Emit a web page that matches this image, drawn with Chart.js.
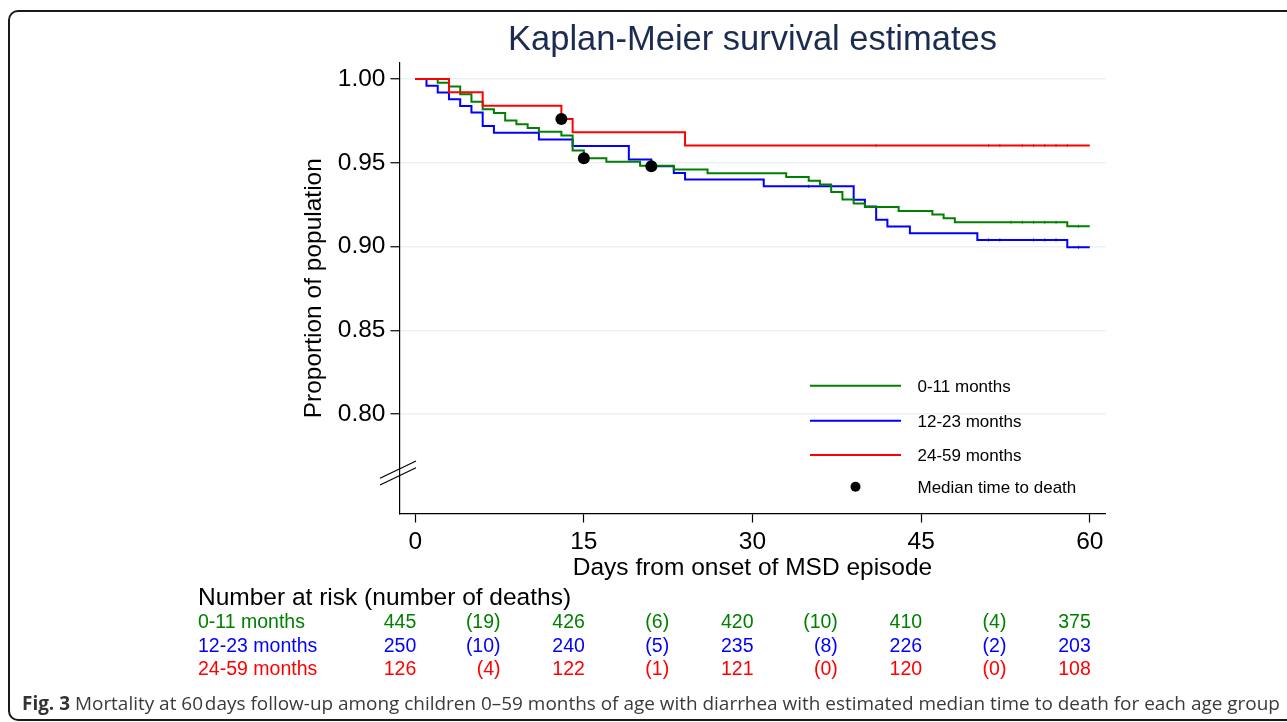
<!DOCTYPE html>
<html>
<head>
<meta charset="utf-8">
<script src="https://cdn.jsdelivr.net/npm/chart.js@4/dist/chart.umd.min.js"></script>
<style>
html,body{margin:0;padding:0;background:#fff;width:1287px;height:722px;overflow:hidden;}
#frame{position:absolute;left:8px;top:10px;width:1330px;height:711px;border:2px solid #1a1a1a;border-radius:10px;box-sizing:border-box;}
#wrap{position:absolute;left:0;top:0;width:1287px;height:722px;}
#caption{position:absolute;left:22px;top:690px;font-family:"Open Sans";font-size:18px;color:#3a3a3a;white-space:nowrap;line-height:26px;}
#caption b{font-weight:700;color:#333;}
</style>
</head>
<body>
<div id="frame"></div>
<div id="wrap"><canvas id="c" width="1287" height="722"></canvas></div>
<div id="caption"><b>Fig. 3</b> Mortality at 60&#8202;days follow-up among children 0–59 months of age with diarrhea with estimated median time to death for each age group</div>
<script>
// ---------------- data ----------------
const chartTitle = 'Kaplan-Meier survival estimates';
const xTitle = 'Days from onset of MSD episode';
const yTitle = 'Proportion of population';
const groupLabels = ['0-11 months', '12-23 months', '24-59 months'];
const medianLabel = 'Median time to death';

// Kaplan-Meier step curves (day of event, survival after event)
const daysG = [0, 2, 3, 4, 5, 6, 7, 8, 9, 10, 11, 13, 14, 15, 17, 20, 23, 26, 33, 35, 36, 37, 38, 39, 40, 43, 46, 47, 48, 58, 60];
const survG = [1.0, 0.9978, 0.9955, 0.9910, 0.9865, 0.9820, 0.9798, 0.9753, 0.9730, 0.9708, 0.9685, 0.9663, 0.9573, 0.9528, 0.9506, 0.9483, 0.9461, 0.9438, 0.9416, 0.9393, 0.9371, 0.9326, 0.9281, 0.9258, 0.9236, 0.9213, 0.9191, 0.9169, 0.9146, 0.9122, 0.9122];

const daysB = [0, 1, 2, 3, 4, 5, 6, 7, 11, 14, 19, 21, 23, 24, 31, 39, 40, 41, 42, 44, 50, 58, 60];
const survB = [1.0, 0.996, 0.992, 0.988, 0.984, 0.980, 0.972, 0.968, 0.964, 0.960, 0.952, 0.948, 0.944, 0.940, 0.936, 0.928, 0.924, 0.916, 0.912, 0.908, 0.904, 0.8996, 0.8996];

const daysR = [0, 3, 6, 13, 14, 24, 60];
const survR = [1.0, 0.9921, 0.9841, 0.9762, 0.9683, 0.9603, 0.9603];

// censoring marks (days)
const censorG = [53, 54, 55, 56, 57, 59];
const censorB = [35, 51, 52, 55, 56, 57, 59];
const censorR = [41, 51, 52, 54, 55, 56, 57, 58];

// median time to death
const medianDays = [13, 15, 21];
const medianSurv = [0.9762, 0.9528, 0.9480];

// axes
const xTicks = [0, 15, 30, 45, 60];
const yTicks = [0.80, 0.85, 0.90, 0.95, 1.00];

// number at risk table
const riskHeader = 'Number at risk (number of deaths)';
const riskTimes = [0, 15, 30, 45, 60];
const riskG = [445, 426, 420, 410, 375];
const riskB = [250, 240, 235, 226, 203];
const riskR = [126, 122, 121, 120, 108];
const deathsG = [19, 6, 10, 4];
const deathsB = [10, 5, 8, 2];
const deathsR = [4, 1, 0, 0];

// ---------------- styles ----------------
const COL = { g: '#008000', b: '#0000ff', r: '#ff0000', k: '#000000' };
const FONT = 'Liberation Sans, Arial, Helvetica, sans-serif';
Chart.defaults.font.family = FONT;
Chart.defaults.color = '#000';

function pts(xs, ys) { return xs.map((x, i) => ({ x: x, y: ys[i] })); }
function stepAt(xs, ys, t) { let v = ys[0]; for (let i = 0; i < xs.length; i++) { if (xs[i] <= t) v = ys[i]; } return v; }
function censorPts(cs, xs, ys) { return cs.map(t => ({ x: t, y: stepAt(xs, ys, t) })); }

const curve = (label, data, color, order) => ({
  label, data, borderColor: color, backgroundColor: color, borderWidth: 2,
  showLine: true, stepped: true, pointRadius: 0, fill: false, order
});
const censor = (data, color, order) => ({
  label: 'censor', data, borderColor: color, backgroundColor: color, showLine: false,
  pointStyle: 'line', rotation: 90, pointRadius: 1.6, borderWidth: 0.8, order
});

const overlay = {
  id: 'overlay',
  afterDraw(chart) {
    const ctx = chart.ctx, ca = chart.chartArea, xs = chart.scales.x;
    ctx.save();
    // title
    ctx.fillStyle = '#1c2c50';
    ctx.font = '34.5px ' + FONT;
    ctx.textAlign = 'center'; ctx.textBaseline = 'middle';
    ctx.fillText(chartTitle, (ca.left + ca.right) / 2, 40);

    // axis break marks
    ctx.strokeStyle = '#000'; ctx.lineWidth = 1.2;
    const L = ca.left;
    [[478.3, 461], [485, 467.7]].forEach(([y1, y2]) => {
      ctx.beginPath(); ctx.moveTo(L - 19.5, y1); ctx.lineTo(L + 16.5, y2); ctx.stroke();
    });

    // legend
    const lx0 = ca.right - 295.5, lx1 = ca.right - 204.5, tx = ca.right - 188;
    const ly = [385.7, 420.7, 455];
    const lc = [COL.g, COL.b, COL.r];
    ctx.font = '17px ' + FONT; ctx.textAlign = 'left'; ctx.textBaseline = 'middle';
    for (let i = 0; i < 3; i++) {
      ctx.strokeStyle = lc[i]; ctx.lineWidth = 2;
      ctx.beginPath(); ctx.moveTo(lx0, ly[i]); ctx.lineTo(lx1, ly[i]); ctx.stroke();
      ctx.fillStyle = '#000'; ctx.fillText(groupLabels[i], tx, ly[i] + 1.5);
    }
    ctx.fillStyle = '#000';
    ctx.beginPath(); ctx.arc((lx0 + lx1) / 2, 486.7, 5, 0, Math.PI * 2); ctx.fill();
    ctx.fillText(medianLabel, tx, 488);

    // number at risk table
    ctx.fillStyle = '#000'; ctx.textAlign = 'left';
    ctx.font = '24.5px ' + FONT;
    ctx.fillText(riskHeader, 198, 598.5);
    const rows = [[riskG, deathsG, COL.g, 622.5], [riskB, deathsB, COL.b, 646.5], [riskR, deathsR, COL.r, 670]];
    ctx.font = '19.5px ' + FONT;
    rows.forEach(([risk, deaths, color, y], r) => {
      ctx.fillStyle = color;
      ctx.textAlign = 'left';
      ctx.fillText(groupLabels[r], 198, y);
      ctx.textAlign = 'right';
      risk.forEach((n, i) => ctx.fillText(String(n), xs.getPixelForValue(riskTimes[i]) + 1, y));
      deaths.forEach((d, i) => ctx.fillText('(' + d + ')', xs.getPixelForValue((riskTimes[i] + riskTimes[i + 1]) / 2) + 1, y));
    });
    ctx.restore();
  }
};

new Chart(document.getElementById('c'), {
  type: 'scatter',
  data: {
    datasets: [
      { label: medianLabel, data: pts(medianDays, medianSurv), backgroundColor: '#000', borderColor: '#000', pointRadius: 6, borderWidth: 0, showLine: false, order: 0 },
      curve(groupLabels[2], pts(daysR, survR), COL.r, 1),
      censor(censorPts(censorR, daysR, survR), COL.r, 1),
      curve(groupLabels[0], pts(daysG, survG), COL.g, 2),
      censor(censorPts(censorG, daysG, survG), COL.g, 2),
      curve(groupLabels[1], pts(daysB, survB), COL.b, 3),
      censor(censorPts(censorB, daysB, survB), COL.b, 3)
    ]
  },
  options: {
    responsive: false, animation: false, devicePixelRatio: 1,
    layout: { padding: { left: 290, right: 181.5, top: 63, bottom: 137 } },
    plugins: { legend: { display: false }, tooltip: { enabled: false }, title: { display: false } },
    scales: {
      x: {
        type: 'linear', min: -1.4, max: 61.4,
        afterBuildTicks: s => { s.ticks = xTicks.map(v => ({ value: v })); },
        afterFit: s => { s.height = 71.5; },
        ticks: { font: { size: 24.5 }, color: '#000', padding: 5, maxRotation: 0, autoSkip: false },
        grid: { drawOnChartArea: false, drawTicks: true, tickLength: 9, tickColor: '#000', tickWidth: 1.2 },
        border: { display: true, color: '#000', width: 1.2 },
        title: { display: true, text: xTitle, font: { size: 24.5 }, color: '#000', padding: { top: 0, bottom: 2 } }
      },
      y: {
        type: 'linear', min: 0.7407, max: 1.0096,
        afterBuildTicks: s => { s.ticks = yTicks.map(v => ({ value: v })); },
        afterFit: s => { s.width = 109.5; },
        ticks: { font: { size: 24.5 }, color: '#000', padding: 5, callback: v => Number(v).toFixed(2) },
        grid: { color: '#eaf2f3', lineWidth: 1.5, drawTicks: true, tickLength: 9, tickColor: '#000', tickWidth: 1.2 },
        border: { display: true, color: '#000', width: 1.2 },
        title: { display: true, text: yTitle, font: { size: 24.5 }, color: '#000', padding: { top: 10, bottom: 0 } }
      }
    }
  },
  plugins: [overlay]
});

// fit caption width to the figure frame
(function () {
  const cap = document.getElementById('caption');
  const target = 1259;
  const w = cap.getBoundingClientRect().width;
  if (w > 0) cap.style.fontSize = (18 * target / w).toFixed(2) + 'px';
})();
</script>
</body>
</html>
